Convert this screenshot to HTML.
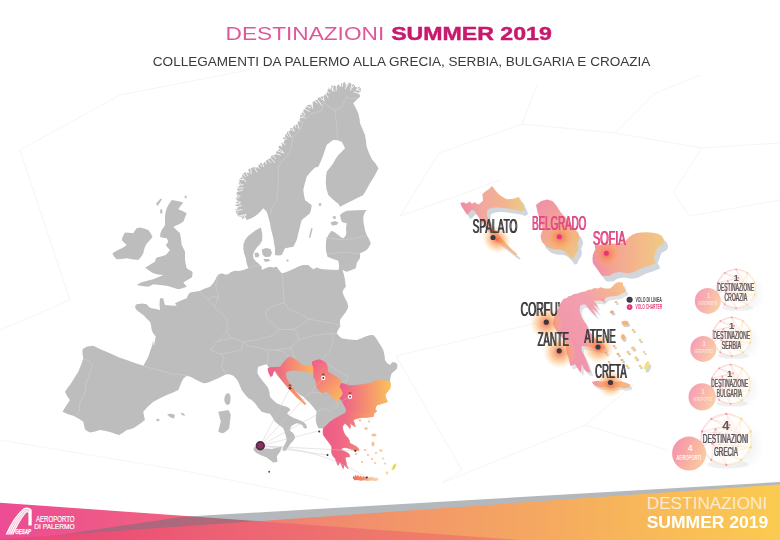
<!DOCTYPE html>
<html><head><meta charset="utf-8"><title>Destinazioni Summer 2019</title>
<style>
html,body{margin:0;padding:0;background:#fff;}
body{width:780px;height:540px;overflow:hidden;font-family:"Liberation Sans",sans-serif;}
svg{display:block;position:absolute;left:0;top:0}
text{font-family:"Liberation Sans",sans-serif;}
</style></head><body>
<svg width="780" height="540" viewBox="0 0 780 540">
<defs>
<linearGradient id="gCro" gradientUnits="userSpaceOnUse" x1="267" y1="0" x2="314" y2="0"><stop offset="0" stop-color="#ee5c8a"/><stop offset=".3" stop-color="#f0707f"/><stop offset=".55" stop-color="#f58c72"/><stop offset="1" stop-color="#fbb45e"/></linearGradient>
<linearGradient id="gSer" gradientUnits="userSpaceOnUse" x1="312" y1="365" x2="344" y2="395"><stop offset="0" stop-color="#f0608c"/><stop offset=".5" stop-color="#f58a74"/><stop offset="1" stop-color="#fbb85e"/></linearGradient>
<linearGradient id="gBul" gradientUnits="userSpaceOnUse" x1="340" y1="0" x2="391" y2="0"><stop offset="0" stop-color="#ee5a8e"/><stop offset=".5" stop-color="#f58d72"/><stop offset="1" stop-color="#fbc25c"/></linearGradient>
<linearGradient id="gGre" gradientUnits="userSpaceOnUse" x1="323" y1="0" x2="379" y2="0"><stop offset="0" stop-color="#ee5a88"/><stop offset=".4" stop-color="#f06a84"/><stop offset=".66" stop-color="#f48a70"/><stop offset="1" stop-color="#f9aa62"/></linearGradient>
<linearGradient id="gCre" x1="0" y1="0" x2="1" y2="0"><stop offset="0" stop-color="#f26a58"/><stop offset=".42" stop-color="#f58a66"/><stop offset=".6" stop-color="#f8bc92"/><stop offset="1" stop-color="#fad6ae"/></linearGradient>

<linearGradient id="rCro" gradientUnits="userSpaceOnUse" x1="460" y1="0" x2="525" y2="0"><stop offset="0" stop-color="#ef8ba4"/><stop offset=".35" stop-color="#f2a89f"/><stop offset=".68" stop-color="#f1b48c"/><stop offset="1" stop-color="#ebcb86"/></linearGradient>
<linearGradient id="rSer" gradientUnits="userSpaceOnUse" x1="538" y1="204" x2="580" y2="256"><stop offset="0" stop-color="#f190aa"/><stop offset=".45" stop-color="#f3a794"/><stop offset=".75" stop-color="#f2b982"/><stop offset="1" stop-color="#ebc98a"/></linearGradient>
<linearGradient id="rBul" gradientUnits="userSpaceOnUse" x1="592" y1="0" x2="665" y2="0"><stop offset="0" stop-color="#f28aa8"/><stop offset=".3" stop-color="#f4a496"/><stop offset=".65" stop-color="#f3b98a"/><stop offset="1" stop-color="#efcb84"/></linearGradient>
<linearGradient id="rGre" gradientUnits="userSpaceOnUse" x1="556" y1="350" x2="627" y2="286"><stop offset="0" stop-color="#f193a9"/><stop offset=".6" stop-color="#f3a0ae"/><stop offset=".82" stop-color="#f5b292"/><stop offset="1" stop-color="#f6c484"/></linearGradient>
<linearGradient id="rCre" x1="0" y1="0" x2="1" y2="0"><stop offset="0" stop-color="#f4979a"/><stop offset="1" stop-color="#f7ba80"/></linearGradient>

<radialGradient id="glow"><stop offset="0" stop-color="#f25c3c" stop-opacity=".88"/><stop offset=".25" stop-color="#f6804a" stop-opacity=".72"/><stop offset=".55" stop-color="#f9a24e" stop-opacity=".5"/><stop offset=".8" stop-color="#fbb866" stop-opacity=".24"/><stop offset="1" stop-color="#fdcc80" stop-opacity="0"/></radialGradient>
<radialGradient id="glowS"><stop offset="0" stop-color="#f2506a" stop-opacity=".8"/><stop offset=".3" stop-color="#f6804c" stop-opacity=".6"/><stop offset=".65" stop-color="#f9a24c" stop-opacity=".35"/><stop offset="1" stop-color="#fbb860" stop-opacity="0"/></radialGradient>

<linearGradient id="badge" x1="0" y1=".2" x2="1" y2=".6"><stop offset="0" stop-color="#f690ae"/><stop offset=".5" stop-color="#f8ada4"/><stop offset="1" stop-color="#facb9e"/></linearGradient>
<radialGradient id="sshadow"><stop offset="0" stop-color="#b8bcc4" stop-opacity=".28"/><stop offset=".6" stop-color="#c8ccd2" stop-opacity=".12"/><stop offset="1" stop-color="#d8dce0" stop-opacity="0"/></radialGradient>
<linearGradient id="netg" x1="0" y1="0" x2="1" y2=".4"><stop offset="0" stop-color="#ee7a98"/><stop offset=".55" stop-color="#f4a58a"/><stop offset="1" stop-color="#f7cf78"/></linearGradient>

<linearGradient id="footA" gradientUnits="userSpaceOnUse" x1="0" y1="0" x2="300" y2="0"><stop offset="0" stop-color="#ec4c94"/><stop offset=".6" stop-color="#f0627f"/><stop offset="1" stop-color="#f07078"/></linearGradient>
<linearGradient id="footB" gradientUnits="userSpaceOnUse" x1="0" y1="0" x2="780" y2="0"><stop offset="0" stop-color="#ec4e82"/><stop offset=".15" stop-color="#ee5e78"/><stop offset=".33" stop-color="#ef7c76"/><stop offset=".5" stop-color="#f2946a"/><stop offset=".67" stop-color="#f5a662"/><stop offset=".85" stop-color="#f8bb58"/><stop offset="1" stop-color="#facb50"/></linearGradient>
</defs>

<!-- faint background low-poly lines -->
<g stroke="#f5f5f5" stroke-width="1" fill="none">
<path d="M20,150 L120,95 L300,60"/>
<path d="M0,330 L70,300 L20,150"/>
<path d="M0,440 L180,470 L330,500"/>
<path d="M400,216 L439,153 L522,124 L615,133 L702,148 L780,143"/>
<path d="M522,124 L537,85 M615,133 L654,94 L700,75"/>
<path d="M702,148 L673,192 L690,216 L780,200"/>
<path d="M400,216 L454,197 L500,180"/>
<path d="M396,356 L536,323 M396,356 L462,470 L442,483"/>
<path d="M442,483 L585,425 L667,450 M585,425 L634,384"/>
</g>

<!-- ================= MAIN MAP ================= -->
<g fill="#bdbdbd">
<path d="M82.5,349.2 L87.0,346.5 L93.3,345.8 L101.0,349.5 L110.0,353.3 L118.0,357.0 L126.7,360.0 L135.0,363.0 L143.3,365.8 L146.0,361.0 L148.3,356.7 L150.5,350.0 L152.3,345.0 L153.0,340.5 L153.9,346.0 L155.0,340.0 L155.8,336.7 L153.0,333.0 L151.7,330.0 L151.0,325.0 L150.0,321.7 L146.0,318.0 L143.3,315.0 L139.0,312.0 L135.8,309.2 L135.0,306.0 L136.7,304.2 L142.0,303.5 L146.7,304.2 L149.0,307.0 L151.7,308.3 L156.0,309.0 L160.0,310.0 L159.5,304.0 L160.0,298.3 L163.3,298.3 L164.0,302.0 L165.0,305.0 L171.0,305.5 L176.7,305.8 L175.0,303.3 L181.0,300.5 L186.7,298.3 L188.0,295.0 L190.0,292.5 L195.0,291.8 L200.0,290.8 L205.0,288.5 L210.0,286.7 L213.0,283.5 L215.5,279.5 L217.0,276.0 L219.0,274.3 L221.7,273.3 L225.0,274.5 L228.3,274.2 L231.0,272.0 L235.0,270.8 L239.0,271.0 L243.3,270.0 L248.3,268.3 L246.5,263.0 L245.8,258.3 L244.0,253.0 L243.3,248.3 L243.5,244.0 L245.0,240.0 L248.0,236.0 L251.7,233.3 L256.0,230.0 L260.8,227.5 L261.9,231.7 L262.4,236.0 L262.0,241.0 L259.8,244.5 L256.8,247.5 L254.2,251.5 L253.0,255.0 L253.5,258.3 L255.5,261.0 L258.3,263.3 L261.7,266.7 L261.7,270.0 L266.0,268.0 L270.0,266.7 L273.0,267.5 L276.7,266.7 L279.0,270.0 L281.7,273.3 L285.0,272.5 L290.0,270.5 L295.0,268.3 L299.0,266.3 L303.3,265.0 L308.3,265.0 L311.0,267.5 L313.3,269.2 L316.7,267.5 L320.0,268.8 L323.3,269.2 L331.0,269.8 L338.3,270.0 L339.2,266.7 L338.3,260.8 L333.0,259.0 L327.5,256.7 L326.0,251.0 L325.8,246.7 L326.0,242.0 L326.7,238.3 L329.0,234.0 L331.7,230.8 L335.0,232.5 L338.3,235.0 L341.0,237.2 L343.3,238.3 L345.5,236.0 L346.3,233.3 L346.0,228.0 L346.7,223.3 L344.0,222.8 L341.7,221.7 L340.5,218.0 L340.0,215.0 L343.0,212.5 L346.7,210.8 L356.0,210.2 L366.7,210.0 L364.5,213.0 L363.3,216.7 L363.3,221.0 L364.0,225.0 L365.0,230.0 L366.7,235.0 L369.0,239.0 L370.8,243.3 L369.0,247.0 L366.7,250.0 L363.0,252.0 L360.0,253.3 L360.0,258.3 L358.0,261.0 L356.7,263.3 L355.8,268.3 L351.0,270.3 L346.7,271.7 L342.5,270.0 L344.0,275.0 L345.0,280.0 L345.8,286.7 L343.5,289.5 L342.5,291.7 L343.5,295.0 L345.0,298.3 L347.0,302.0 L348.3,306.7 L347.0,310.0 L345.0,313.3 L342.0,317.0 L340.0,320.0 L340.0,326.7 L338.0,330.0 L336.7,333.3 L339.0,336.0 L341.7,338.3 L349.0,339.5 L356.7,340.0 L361.0,338.5 L365.0,336.7 L369.0,335.3 L373.3,335.0 L376.0,338.0 L378.3,341.7 L381.0,346.0 L383.3,350.0 L384.5,355.0 L385.0,360.0 L387.0,363.0 L390.0,365.0 L392.0,362.3 L395.0,362.3 L397.5,364.5 L397.0,368.5 L394.5,371.0 L391.7,373.3 L390.5,377.0 L390.0,381.7 L390.5,385.0 L390.0,388.3 L387.0,392.0 L385.0,395.0 L386.0,398.5 L387.5,401.7 L382.0,403.5 L376.7,405.0 L375.5,407.5 L375.0,410.0 L377.0,411.0 L374.0,413.5 L373.3,416.7 L370.0,417.0 L366.7,417.5 L362.0,417.5 L358.3,418.3 L355.5,419.0 L353.3,420.0 L354.5,423.5 L355.5,427.0 L352.5,425.0 L350.0,423.3 L350.5,426.0 L350.0,428.8 L347.5,425.5 L345.0,423.3 L343.5,425.0 L342.5,426.7 L343.0,430.0 L344.2,433.3 L346.0,436.0 L348.3,438.3 L349.5,441.0 L350.0,443.3 L353.5,445.0 L356.7,446.7 L358.5,448.5 L359.2,450.5 L356.0,450.5 L353.3,450.0 L350.5,449.0 L348.3,448.3 L345.0,447.5 L341.7,448.3 L341.7,450.0 L345.0,451.5 L348.3,453.3 L349.5,455.0 L350.0,456.7 L347.5,457.0 L345.0,457.5 L346.0,461.5 L346.7,465.0 L348.3,468.8 L346.0,467.0 L344.2,465.0 L343.3,468.8 L341.5,465.0 L340.0,461.7 L339.0,464.0 L338.0,465.5 L336.5,462.0 L335.0,458.3 L333.0,456.0 L331.7,453.3 L331.7,450.0 L331.7,446.7 L330.0,444.0 L328.3,441.7 L325.5,438.0 L323.3,435.0 L323.0,431.5 L323.3,428.3 L318.3,428.3 L316.5,424.0 L315.8,420.0 L316.0,415.5 L316.7,411.7 L313.5,407.5 L310.0,403.3 L306.5,400.0 L303.3,396.7 L300.0,395.0 L295.0,390.5 L290.0,386.7 L285.5,383.5 L281.7,380.0 L279.0,377.5 L276.7,375.0 L275.0,372.0 L273.3,370.0 L271.5,372.0 L269.8,371.5 L268.3,366.7 L266.7,364.2 L262.0,365.5 L258.3,366.7 L257.5,370.0 L257.5,373.3 L260.0,377.5 L263.3,381.7 L266.0,385.0 L268.3,388.3 L269.5,392.5 L270.0,396.7 L273.0,400.0 L276.7,403.3 L281.5,405.3 L286.7,406.7 L289.0,408.0 L290.5,410.0 L288.5,411.8 L287.0,413.5 L290.0,416.0 L294.0,418.0 L299.5,420.3 L303.5,422.0 L306.0,424.5 L307.0,427.2 L305.8,428.8 L303.8,428.0 L302.5,425.2 L299.5,423.8 L296.7,423.3 L293.5,424.8 L290.8,426.7 L290.0,430.8 L293.3,433.3 L294.8,436.0 L295.0,438.3 L293.0,441.0 L290.8,443.3 L288.0,447.5 L285.8,450.8 L282.5,450.8 L283.3,446.7 L285.5,443.0 L286.7,440.0 L286.0,436.5 L285.0,433.3 L284.0,430.5 L283.3,428.3 L279.0,425.0 L275.0,421.7 L272.5,417.5 L270.0,413.8 L265.5,413.0 L261.7,411.7 L258.0,407.5 L255.0,403.3 L251.0,399.5 L248.3,398.3 L245.0,394.5 L241.7,390.0 L240.0,386.0 L238.3,381.7 L236.0,378.5 L233.3,375.8 L230.0,374.5 L226.7,374.2 L222.5,376.0 L218.3,378.3 L214.0,380.0 L210.0,381.7 L206.5,383.0 L203.3,383.3 L199.0,381.3 L195.0,379.2 L191.0,377.0 L186.7,375.8 L183.5,378.5 L181.7,381.7 L180.0,386.0 L178.3,390.0 L172.5,392.7 L166.7,395.0 L160.0,398.3 L153.3,401.7 L148.0,406.5 L143.3,411.7 L144.0,416.0 L145.0,420.0 L139.0,424.5 L133.3,428.3 L130.0,429.3 L126.7,430.0 L123.0,432.7 L119.2,435.0 L115.5,434.0 L111.7,432.5 L106.0,431.0 L100.0,430.0 L95.0,431.5 L90.0,432.5 L87.0,431.0 L85.0,429.2 L84.0,425.5 L83.3,421.7 L78.5,418.5 L73.3,415.8 L68.0,414.3 L62.5,411.7 L66.0,406.0 L70.0,400.0 L67.0,396.0 L65.0,391.7 L67.5,388.0 L70.0,385.0 L74.0,378.5 L78.3,371.7 L81.0,365.0 L83.3,358.3 L82.5,353.5Z"/>
<path d="M246.7,220.0 L245.6,217.8 L243.7,218.5 L242.0,218.8 L240.8,216.5 L238.3,216.7 L237.6,214.8 L236.0,213.5 L235.9,211.6 L235.0,210.0 L237.6,208.6 L237.9,207.0 L234.9,205.2 L237.2,203.7 L235.5,202.0 L237.7,200.6 L235.1,198.3 L237.4,196.9 L236.7,195.0 L236.4,193.0 L237.9,191.0 L237.0,189.0 L237.8,187.2 L240.0,185.7 L238.3,183.3 L239.4,181.7 L239.3,179.6 L240.5,178.0 L242.1,176.8 L242.4,174.9 L243.3,173.3 L245.0,172.2 L248.0,172.8 L248.0,169.5 L249.7,168.5 L251.8,168.1 L253.3,166.7 L255.8,167.4 L258.1,167.6 L259.0,164.3 L260.6,163.1 L263.1,163.7 L264.5,162.0 L266.0,161.1 L267.2,159.6 L269.0,159.0 L270.6,157.7 L271.5,155.8 L273.5,155.0 L275.8,154.4 L276.0,151.8 L277.5,150.5 L279.2,149.5 L278.2,147.2 L279.1,145.8 L282.5,145.5 L281.0,143.0 L283.8,142.4 L284.4,140.7 L282.6,137.8 L285.2,137.1 L285.0,135.0 L286.6,133.5 L287.5,131.5 L290.1,130.9 L290.0,128.3 L291.9,127.9 L293.5,127.1 L294.0,125.0 L296.3,125.1 L297.2,123.3 L298.3,121.7 L299.7,119.8 L300.0,117.5 L300.3,115.2 L301.7,113.3 L303.0,112.0 L303.3,110.0 L305.0,109.0 L305.7,107.4 L306.5,105.7 L308.3,105.0 L309.8,104.3 L312.3,105.0 L312.5,102.3 L314.4,100.7 L316.7,100.0 L317.8,98.1 L319.5,97.2 L321.5,96.5 L323.6,96.0 L325.0,94.4 L326.7,93.3 L327.5,90.5 L328.3,87.5 L330.6,88.7 L331.3,85.8 L333.0,85.5 L334.9,85.7 L336.9,86.3 L338.3,84.2 L340.5,86.3 L341.3,83.0 L343.0,83.0 L344.7,81.9 L346.8,85.1 L348.3,82.5 L350.4,82.8 L352.1,84.7 L354.5,84.0 L355.4,86.9 L357.4,87.3 L360.0,86.7 L360.5,88.3 L361.2,89.8 L361.0,91.5 L358.1,92.7 L359.9,94.9 L360.0,96.7 L356.5,100.0 L353.3,103.3 L356.0,108.5 L358.3,113.3 L359.5,118.5 L360.0,123.3 L362.5,129.0 L365.0,135.0 L366.0,141.0 L366.7,146.7 L369.0,153.0 L372.0,159.5 L375.5,163.5 L378.5,168.3 L374.5,176.0 L370.0,183.3 L366.5,189.5 L363.3,195.0 L360.0,196.8 L356.7,198.3 L351.5,201.0 L346.7,203.3 L343.0,205.3 L340.0,206.7 L338.3,203.8 L333.0,199.5 L328.3,195.0 L326.5,189.0 L325.8,183.3 L326.0,177.0 L326.7,171.7 L330.0,167.5 L333.3,163.3 L335.5,159.0 L338.3,155.0 L342.0,151.5 L345.0,148.3 L343.5,145.0 L341.7,141.7 L337.5,140.3 L333.3,140.0 L330.0,142.3 L326.7,145.0 L325.0,150.0 L323.3,155.0 L321.0,161.0 L318.3,166.7 L315.0,167.5 L310.5,172.0 L306.7,176.7 L304.8,183.5 L303.3,190.0 L304.0,195.0 L305.0,200.0 L308.5,202.8 L311.7,205.0 L311.2,209.0 L310.0,213.3 L305.5,217.0 L301.7,220.0 L300.0,226.5 L298.3,233.3 L297.5,237.0 L296.7,240.0 L295.0,243.5 L293.3,246.7 L289.0,247.5 L285.0,248.3 L283.5,251.5 L281.7,255.0 L278.5,255.5 L275.0,255.0 L275.0,251.5 L275.0,248.3 L274.0,243.0 L273.3,238.3 L272.0,233.0 L270.8,228.3 L270.0,223.3 L268.3,216.7 L266.7,211.7 L263.3,208.3 L260.0,212.0 L256.7,215.0 L252.0,218.0Z"/>
<path d="M242.7,221.0L246.0,214.5M239.1,219.3L245.5,214.3M236.1,216.8L243.7,214.9M234.6,214.9L238.2,212.1M233.2,210.9L241.9,209.7M233.2,208.1L241.4,205.6M233.4,204.6L239.9,203.5M233.7,200.6L240.5,202.3M234.2,198.1L238.7,197.7M234.9,194.0L240.1,196.4M234.9,192.1L242.6,190.1M235.1,188.6L243.2,187.8M235.9,185.5L243.1,184.7M237.2,180.9L240.6,183.9M238.0,179.0L243.4,179.8M240.1,174.9L245.9,181.8M241.9,172.1L245.3,176.8M244.4,169.8L247.9,175.9M247.4,167.6L248.9,172.9M250.6,166.1L251.1,173.7M252.5,164.9L257.1,172.0M255.2,163.8L259.2,168.5M258.1,162.7L261.7,166.3M261.8,161.0L263.6,166.5M264.5,159.7L266.3,163.8M266.6,158.2L270.7,162.6M269.1,156.2L274.6,162.3M271.5,154.1L275.5,158.5M273.1,152.6L280.4,155.1M275.3,150.3L283.8,152.9M277.2,146.7L283.0,152.0M278.5,143.9L282.0,146.8M279.6,141.2L284.9,144.4M280.8,139.3L285.3,139.5M282.9,135.0L286.4,139.1M284.5,132.3L288.1,136.3M286.8,129.5L291.0,137.0M288.0,127.7L293.2,130.7M291.2,124.8L294.2,131.0M293.7,122.7L295.8,127.3M296.5,120.7L299.1,128.4M297.5,118.7L300.8,122.0M298.2,116.7L303.0,117.8M299.9,112.8L305.1,117.8M302.1,109.8L305.1,115.0M303.3,108.0L309.3,111.4M305.2,105.7L310.7,108.0M307.8,103.1L311.6,106.1M311.8,100.6L312.7,108.2M313.2,99.8L317.4,103.0M316.4,97.7L321.5,105.1M318.6,96.2L323.4,100.3M322.3,93.8L324.1,100.7M324.4,92.4L328.2,97.7M325.6,90.3L329.4,93.2M326.1,88.0L330.6,89.1M329.0,85.2L334.5,91.3M333.6,83.5L332.3,91.1M336.4,82.7L336.3,90.0M338.9,82.0L340.4,86.7M342.7,81.1L342.4,86.3M345.5,80.8L346.3,86.5M350.0,81.0L345.3,88.6M352.4,81.4L350.7,90.2M356.3,82.7L352.2,88.0M358.5,83.8L356.7,90.2M361.9,86.6L356.5,89.8M362.8,91.2L356.8,89.8M362.4,94.5L354.0,91.9" stroke="#fff" stroke-width=".9" fill="none" stroke-linecap="round" opacity=".9"/>
<path d="M171.7,200.0 L177.5,201.0 L183.3,202.5 L180.5,206.0 L178.3,209.2 L182.5,211.0 L186.7,213.3 L185.0,217.5 L183.3,221.7 L178.5,224.5 L173.3,226.7 L176.5,230.0 L180.0,233.3 L181.0,239.0 L181.7,245.0 L183.5,248.5 L185.0,251.7 L185.0,260.0 L185.8,264.5 L186.7,268.3 L189.5,270.0 L192.5,271.7 L192.5,274.5 L191.7,277.5 L187.5,280.0 L183.3,282.5 L185.0,284.5 L186.7,286.7 L182.5,288.2 L178.3,289.2 L172.5,287.5 L166.7,285.8 L160.0,285.0 L153.3,284.2 L150.5,285.7 L148.3,286.7 L142.0,286.0 L136.7,285.0 L139.5,283.2 L143.3,281.7 L148.0,280.5 L153.3,279.2 L158.5,277.0 L163.3,275.0 L158.0,274.5 L153.3,273.3 L149.0,270.5 L145.0,267.5 L146.7,266.7 L151.0,264.0 L155.0,261.7 L155.5,259.5 L156.7,257.5 L161.0,256.5 L165.8,255.0 L168.0,252.5 L170.0,250.0 L167.5,247.5 L165.8,245.0 L168.3,241.7 L166.7,238.3 L163.0,237.7 L160.0,236.7 L160.5,233.0 L161.7,230.0 L163.5,227.5 L165.0,225.0 L165.0,216.7 L165.5,212.5 L166.7,208.3 L169.0,204.0Z"/>
<path d="M140.0,227.5 L144.0,228.5 L148.3,230.0 L150.5,233.0 L152.5,236.7 L150.5,239.5 L148.3,241.7 L146.5,244.0 L145.0,246.7 L144.0,250.0 L143.3,253.3 L141.0,257.0 L138.3,260.0 L132.0,259.3 L126.7,258.3 L121.5,259.0 L116.7,259.2 L114.0,256.5 L112.5,253.3 L117.0,250.5 L121.7,248.3 L124.5,246.7 L126.7,245.0 L124.0,242.5 L121.7,240.0 L123.0,236.0 L125.0,232.5 L129.0,232.7 L133.3,233.3 L135.0,230.5 L136.7,228.3Z"/>
<path d="M254.5,446.7 L259.0,448.3 L263.3,448.8 L267.5,448.6 L271.7,449.0 L277.0,447.8 L281.7,446.5 L281.0,449.5 L280.0,451.7 L278.0,454.5 L276.7,456.7 L277.2,459.0 L277.5,461.7 L275.5,462.3 L273.3,462.5 L270.0,460.0 L266.7,457.5 L261.5,455.5 L256.7,453.3 L254.5,451.3 L253.3,449.2Z"/>
<path d="M218.3,411.7 L223.0,411.0 L228.3,410.0 L229.8,412.5 L230.8,415.0 L230.0,421.5 L229.2,428.3 L226.5,431.0 L223.3,433.3 L220.5,432.8 L218.3,431.7 L219.5,426.5 L220.8,421.7 L219.5,416.5Z"/>
<path d="M226.5,393.5 L229.0,393.3 L230.5,396.0 L230.5,400.0 L230.0,403.3 L228.2,404.8 L226.7,405.0 L225.0,402.5 L224.2,400.0 L224.8,396.5Z"/>
<path d="M261.7,249.5 L266.0,248.0 L270.5,249.0 L272.0,253.0 L270.0,256.7 L265.0,257.0 L262.5,254.5Z"/><path d="M254.5,253.0 L258.0,252.5 L259.5,255.0 L258.0,257.5 L255.0,257.0Z"/><path d="M263.5,259.0 L269.0,259.0 L270.0,261.0 L265.0,262.0Z"/><path d="M311.2,228.0 L312.6,228.5 L310.5,237.5 L308.8,238.0Z"/><path d="M330.5,222.5 L335.0,221.0 L338.5,222.5 L336.5,225.0 L332.0,225.5Z"/><path d="M332.5,216.5 L335.5,216.0 L336.0,218.5 L333.5,219.0Z"/><path d="M167.0,414.5 L171.0,413.5 L175.0,415.0 L174.0,418.5 L170.5,417.5Z"/><path d="M180.5,412.8 L184.0,413.5 L185.0,416.0 L182.0,415.0Z"/><path d="M156.0,419.5 L159.0,418.5 L159.5,420.5 L157.0,421.5Z"/><path d="M156.0,203.5 L158.5,201.0 L160.5,198.5 L162.0,199.5 L159.5,203.0 L157.5,206.0Z"/><path d="M160.0,210.0 L162.0,209.0 L162.5,213.0 L160.5,214.0Z"/><path d="M184.5,196.0 L186.5,195.5 L186.5,198.0 L185.0,198.5Z"/><path d="M286.5,259.5 L288.5,259.5 L288.5,261.5 L286.5,261.5Z"/><path d="M318.5,203.5 L321.0,203.0 L321.5,205.5 L319.0,206.0Z"/>
</g>
<!-- country borders (very subtle) -->
<g stroke="#cdcdcd" stroke-width=".7" fill="none" stroke-linejoin="round">
<path d="M143.3,365.8 L152,368.5 L162,371 L172,374 L180,374.5 L187,376"/>
<path d="M83.5,358.5 L90,361.5 L92.5,366 L89,375 L86,384 L84.5,394 L80,402 L79,412 L76.7,415.5"/>
<path d="M199,291 L208,300 L214.5,307.5 L221,313 L227,319 L226.9,331.5 L222,337 L216.7,341.8 L210.5,350 L216,352.5 L220.8,354.1 L224,358 L221.5,366 L225.5,374"/>
<path d="M219,274.3 L215.5,285 L218.5,297 L214.5,307.5"/>
<path d="M208,300 L213,296.5 L218.5,297"/>
<path d="M248.3,268.3 L253,266.3 L258.3,265.5"/>
<path d="M282.3,273 L283.3,290.5 L284.4,302.8 L276.2,304.9 L270,308 L265.9,311 L265.9,317.2 L272.1,323.3 L280.3,329.5 L272.1,335.6 L257.7,339.7 L243.3,341.8 L231,337.7 L226.9,331.5"/>
<path d="M284.4,302.8 L288.5,309 L298.7,313.1 L309,319.2 L300.8,325.4 L292.6,329.5 L280.3,329.5"/>
<path d="M309,319.2 L321.3,321.3 L333.6,323.3 L341,326"/>
<path d="M292.6,329.5 L296.7,331.5 L298.7,339.7 L313.1,335.6 L329.5,333.6 L336.7,333.3"/>
<path d="M216.7,341.8 L231,337.7 M243.3,341.8 L241.3,350 L231,352.1 L220.8,354.1"/>
<path d="M243.3,341.8 L247.4,345.9 L259.7,347.9 L266.5,350 L276.2,350 L290.5,347.9 L298.7,339.7"/>
<path d="M266.5,350 L268.5,356.5 L266.7,364"/>
<path d="M276.2,350 L284,352 L288.5,357"/>
<path d="M290.5,347.9 L292.6,352.1 L295,358.3"/>
<path d="M329.5,333.6 L333.6,337.7 L329.5,352.1 L321.3,360.3 L320,359.2"/>
<path d="M326.7,363.3 L333,367 L341,373 L348,376 L346.5,381 L341.7,383.3"/>
<path d="M326,238 L345,240 L366,236 M327,254 L345,252 L360,254"/>
<path d="M304,398 L312,392 L321.7,393.3 M316.5,412 L324,408 L330,412 L338.5,405.5 L336.7,401.7 M323.3,428.3 L328,421 L337,417.5"/>
<path d="M270,215 L271.7,208 L276.7,200 L278.3,188 L278.3,167 L283,160 L290,152 L293,137 L300,130 L303,122 L311.5,113.5 L321.5,111 L324,102 L330,108 L335,110"/>
<path d="M335,110 L336.5,125 L338,139.5"/>
<path d="M335,110 L341.5,107.5 L346.5,97 L353,99 L358,98"/>
</g>

<!-- coloured destination countries -->
<path d="M267.5,368.5 L270.0,367.3 L275.0,367.0 L280.0,366.7 L284.0,361.5 L288.5,357.0 L291.5,357.3 L295.0,359.0 L299.0,362.0 L303.3,365.5 L307.5,366.0 L311.7,364.0 L313.5,368.3 L313.5,373.8 L310.0,373.0 L306.7,372.0 L301.0,371.0 L295.0,370.5 L290.5,370.8 L286.7,372.0 L286.0,375.0 L286.7,378.3 L289.5,383.0 L293.0,388.0 L297.0,393.0 L301.5,398.0 L306.3,403.8 L305.0,405.2 L300.5,401.0 L296.0,397.0 L291.0,391.5 L286.3,386.3 L282.0,381.0 L279.5,377.5 L277.0,373.5 L275.0,370.5 L273.5,372.5 L272.5,376.0 L270.5,377.0 L268.5,373.0Z" fill="url(#gCro)"/>
<path d="M311.7,361.7 L316.0,360.0 L320.0,359.2 L323.5,361.0 L326.7,363.3 L327.8,367.5 L328.3,371.7 L332.5,374.0 L336.7,376.7 L339.5,379.0 L341.7,381.7 L340.5,384.0 L340.0,386.7 L342.0,390.0 L343.3,393.3 L342.0,396.0 L340.0,398.3 L338.5,400.0 L336.7,401.7 L334.0,399.0 L331.7,396.7 L329.0,394.0 L326.7,391.7 L324.0,392.7 L321.7,393.3 L319.0,391.0 L316.7,388.3 L316.0,385.0 L315.8,381.7 L314.5,379.0 L313.3,376.7 L313.3,372.0 L313.3,368.3 L312.3,365.0Z" fill="url(#gSer)"/>
<path d="M341.7,383.3 L346.0,384.7 L350.0,385.8 L355.0,385.5 L360.0,385.0 L365.0,384.3 L370.0,383.3 L374.5,381.5 L378.3,380.0 L384.0,380.7 L390.0,381.7 L390.5,385.0 L390.0,388.3 L387.0,392.0 L385.0,395.0 L386.0,398.5 L387.5,401.7 L382.0,403.5 L376.7,405.0 L375.5,407.5 L375.0,410.0 L371.5,412.0 L368.3,413.3 L364.0,413.5 L360.0,413.3 L355.5,412.7 L351.7,411.7 L349.0,411.0 L346.7,410.0 L345.0,406.5 L343.3,403.3 L341.5,400.5 L340.0,398.3 L342.0,396.0 L343.3,393.3 L342.0,390.0 L340.0,386.7 L340.5,384.8Z" fill="url(#gBul)" stroke="url(#gBul)" stroke-width=".9" stroke-linejoin="round"/>
<path d="M323.3,428.3 L326.5,425.0 L330.0,421.7 L334.0,419.0 L338.3,416.7 L341.5,415.0 L345.0,413.3 L346.7,410.0 L349.0,411.0 L351.7,411.7 L355.5,412.7 L360.0,413.3 L364.0,413.5 L368.3,413.3 L371.5,412.0 L375.0,410.0 L377.0,411.0 L374.0,413.5 L373.3,416.7 L370.0,417.0 L366.7,417.5 L362.0,417.5 L358.3,418.3 L355.5,419.0 L353.3,420.0 L354.5,423.5 L355.5,427.0 L352.5,425.0 L350.0,423.3 L350.5,426.0 L350.0,428.8 L347.5,425.5 L345.0,423.3 L343.5,425.0 L342.5,426.7 L343.0,430.0 L344.2,433.3 L346.0,436.0 L348.3,438.3 L349.5,441.0 L350.0,443.3 L353.5,445.0 L356.7,446.7 L358.5,448.5 L359.2,450.5 L356.0,450.5 L353.3,450.0 L350.5,449.0 L348.3,448.3 L345.0,447.5 L341.7,448.3 L341.7,450.0 L345.0,451.5 L348.3,453.3 L349.5,455.0 L350.0,456.7 L347.5,457.0 L345.0,457.5 L346.0,461.5 L346.7,465.0 L348.3,468.8 L346.0,467.0 L344.2,465.0 L343.3,468.8 L341.5,465.0 L340.0,461.7 L339.0,464.0 L338.0,465.5 L336.5,462.0 L335.0,458.3 L333.0,456.0 L331.7,453.3 L331.7,450.0 L331.7,446.7 L330.0,444.0 L328.3,441.7 L325.5,438.0 L323.3,435.0 L323.0,431.5Z" fill="url(#gGre)" stroke="url(#gGre)" stroke-width=".5" stroke-linejoin="round"/>
<path d="M352.7,478.0 L353.5,475.5 L354.6,477.0 L355.6,474.6 L356.8,476.8 L358.0,474.8 L359.3,477.0 L360.6,475.4 L362.0,477.3 L363.5,476.0 L365.0,477.5 L367.0,476.6 L369.0,477.6 L371.5,476.8 L374.0,477.8 L376.5,477.4 L378.6,478.8 L378.0,480.6 L375.0,481.0 L371.5,480.4 L368.0,481.0 L364.5,480.2 L361.0,480.8 L357.5,480.0 L354.5,480.2Z" fill="url(#gCre)"/>
<g opacity=".7"><ellipse cx="374" cy="435" rx="2.6" ry="1.6" fill="#f6a868" opacity="1"/>
<ellipse cx="373" cy="444" rx="1.5" ry="2.4" fill="#f6a868" opacity="1"/>
<ellipse cx="366" cy="428.5" rx="1.6" ry="1.2" fill="#f59a70" opacity="1"/>
<ellipse cx="381" cy="450.5" rx="1.6" ry="1.2" fill="#f8b864" opacity="1"/>
<ellipse cx="376" cy="453" rx="1.2" ry="1" fill="#f8b864" opacity="1"/>
<ellipse cx="368" cy="455" rx="1.2" ry="1" fill="#f6a868" opacity="1"/>
<ellipse cx="372" cy="459" rx="1.2" ry="1" fill="#f6a868" opacity="1"/>
<ellipse cx="383" cy="458.5" rx="1.3" ry="1.1" fill="#f9c060" opacity="1"/>
<ellipse cx="375" cy="463" rx="1.2" ry="1" fill="#f8b864" opacity="1"/>
<ellipse cx="385" cy="463.5" rx="1.2" ry="1" fill="#f9c060" opacity="1"/>
<ellipse cx="362" cy="462" rx="1.1" ry="0.9" fill="#f6a868" opacity="1"/>
<ellipse cx="387" cy="473" rx="1.4" ry="1.4" fill="#f9c860" opacity="1"/>
<ellipse cx="360" cy="420.5" rx="1.4" ry="1" fill="#f59a70" opacity="1"/>
<ellipse cx="369" cy="421.5" rx="1.2" ry="0.9" fill="#f6a868" opacity="1"/>
<ellipse cx="356" cy="454" rx="1.2" ry="0.9" fill="#f59a70" opacity="1"/>
<ellipse cx="365" cy="450" rx="1.3" ry="0.9" fill="#f6a868" opacity="1"/></g>
<ellipse cx="394" cy="466.9" rx="2.2" ry="4.2" fill="#fbf3b0" opacity=".8" transform="rotate(28 394 466.9)"/><ellipse cx="394" cy="466.9" rx="1.1" ry="3.2" fill="#dcd45e" transform="rotate(28 394 466.9)"/>

<!-- flight lines from Palermo -->
<g stroke="#cfcaca" stroke-width=".55" fill="none" opacity=".85">
<path d="M260.3,445.8 L290,388.3"/>
<path d="M260.3,445.8 L323.3,378"/>
<path d="M260.3,445.8 L350,396.7"/>
<path d="M260.3,445.8 L319.2,430.8"/>
<path d="M260.3,445.8 L327.5,455"/>
<path d="M260.3,445.8 L355.3,450.8"/>
<path d="M260.3,445.8 Q320,448 366.7,477.5"/>
</g>
<!-- markers -->
<g>
<circle cx="260.3" cy="445.8" r="4.7" fill="#4a2a45"/><circle cx="260.3" cy="445.8" r="3" fill="#8a2f5e"/>
<circle cx="290" cy="388.3" r="1.3" fill="#5a3a30"/>
<circle cx="323.3" cy="378" r="2.2" fill="#fff"/><circle cx="323.3" cy="378" r="1" fill="#7a2f3e"/>
<circle cx="350" cy="396.7" r="2.2" fill="#fff"/><circle cx="350" cy="396.7" r="1" fill="#a0305e"/>
<rect x="322" y="373.6" width="2.6" height="1.6" fill="#9a4a30"/><rect x="348.7" y="392.3" width="2.6" height="1.6" fill="#9a4a30"/><rect x="288.7" y="384.6" width="2.6" height="1.6" fill="#6a4a30"/>
<circle cx="319.2" cy="430.8" r="1.7" fill="#fff"/><circle cx="319.2" cy="431.5" r="1" fill="#333"/>
<circle cx="327.5" cy="455" r="1" fill="#333"/>
<circle cx="355.3" cy="450.8" r="1.1" fill="#4a3030"/>
<circle cx="366.7" cy="477.5" r="1.1" fill="#4a3030"/>
<circle cx="269.2" cy="471.7" r="1" fill="#555"/>
</g>

<!-- ================= RIGHT: ENLARGED COUNTRIES ================= -->
<!-- shadows -->
<g fill="#c9cfd7" opacity=".85">
<path d="M460.2,203.0 L464.0,202.2 L466.0,203.7 L469.8,201.5 L472.0,203.7 L474.5,202.2 L478.7,204.4 L483.0,200.7 L482.4,194.1 L486.0,191.0 L489.1,188.9 L492.0,185.9 L494.0,188.5 L495.7,191.1 L499.4,194.8 L503.0,197.3 L506.9,199.3 L511.0,199.0 L514.3,198.5 L518.7,197.0 L520.5,199.5 L521.7,202.2 L523.5,206.0 L524.6,209.6 L521.7,211.5 L518.0,210.3 L514.3,209.6 L509.0,208.7 L503.9,208.1 L499.0,207.6 L495.0,207.4 L491.0,208.3 L487.6,209.6 L487.0,212.5 L486.9,215.6 L488.0,218.0 L489.5,221.0 L492.0,225.5 L495.0,230.0 L499.0,235.0 L503.0,240.0 L507.5,245.0 L512.0,249.5 L516.0,253.0 L517.5,254.5 L515.5,255.0 L511.0,251.5 L506.0,247.5 L500.0,243.0 L495.0,238.5 L490.0,233.5 L486.0,228.5 L482.5,223.5 L480.0,219.5 L477.2,215.0 L474.3,210.5 L471.5,210.0 L469.5,212.6 L467.0,214.8 L464.5,211.0 L462.0,207.0Z" transform="translate(3.5,4.5)"/>
<path d="M536.1,204.8 L541.3,201.1 L547.2,199.6 L552.4,201.1 L555.0,203.8 L556.9,206.3 L558.8,209.5 L560.6,212.2 L563.0,215.0 L565.7,217.4 L569.5,222.5 L573.9,228.5 L576.3,230.8 L578.3,233.0 L579.8,237.4 L578.8,240.5 L577.6,243.3 L578.5,247.5 L577.6,251.0 L575.5,254.0 L573.5,258.5 L571.0,258.9 L569.0,256.0 L567.2,253.7 L564.5,251.5 L562.0,250.0 L558.0,249.3 L554.6,249.3 L551.0,248.5 L547.2,247.0 L544.5,244.5 L542.0,241.9 L541.0,238.8 L540.6,235.9 L541.5,233.0 L542.8,230.0 L541.3,225.0 L539.8,219.6 L538.7,216.0 L537.6,212.2 L536.7,208.5Z" transform="translate(3.5,5.5)"/>
<path d="M592.8,255.0 L594.0,252.0 L595.4,249.8 L594.7,245.3 L600.0,245.0 L606.0,244.5 L613.0,243.8 L620.0,243.3 L625.0,241.5 L629.1,236.9 L633.0,234.5 L636.9,233.0 L641.5,232.4 L646.0,232.3 L650.5,232.5 L655.0,233.0 L658.5,234.0 L661.5,235.6 L663.0,237.8 L664.1,240.1 L663.8,242.5 L662.8,244.6 L660.3,246.0 L657.6,247.2 L656.5,249.8 L655.7,252.4 L654.7,255.0 L653.7,257.6 L655.0,260.3 L656.3,262.8 L653.0,264.3 L649.9,265.4 L646.0,266.7 L642.1,268.0 L638.0,270.0 L634.3,271.9 L631.0,272.7 L627.8,273.2 L624.0,272.7 L620.0,271.9 L616.5,272.5 L613.5,273.2 L611.5,274.5 L609.6,275.8 L605.5,276.0 L601.9,275.8 L600.5,273.8 L599.3,271.9 L597.3,269.3 L595.4,266.7 L594.0,264.7 L592.8,262.8 L592.5,259.0Z" transform="translate(4,5.5)"/>
<path d="M561.9,301.0 L564.0,298.6 L566.5,298.2 L568.5,296.3 L571.0,295.8 L574.0,294.0 L577.5,293.6 L581.3,291.9 L585.0,291.6 L588.5,289.8 L591.5,289.4 L594.3,288.0 L597.5,288.4 L600.8,287.3 L605.0,288.6 L609.9,288.6 L612.5,286.5 L614.5,284.2 L616.3,282.8 L619.5,282.0 L622.8,282.8 L623.2,285.5 L624.1,288.0 L625.8,289.8 L625.4,291.9 L622.0,293.6 L617.6,295.8 L612.5,296.2 L607.3,297.0 L604.5,299.0 L602.1,300.9 L598.0,300.4 L594.0,301.0 L596.0,303.6 L598.2,307.4 L595.5,306.0 L593.2,305.4 L596.5,309.5 L598.8,312.6 L595.0,310.5 L591.5,308.0 L594.5,312.5 L596.9,316.5 L592.5,313.0 L588.5,308.5 L585.5,304.5 L582.5,304.5 L580.2,306.0 L579.6,309.5 L580.0,312.6 L581.2,316.0 L582.6,319.1 L584.5,321.8 L586.5,324.3 L588.3,329.5 L590.6,332.8 L593.3,336.2 L596.1,339.4 L599.5,341.8 L602.8,343.9 L604.6,346.0 L606.1,348.3 L603.0,349.2 L599.4,349.4 L595.0,348.5 L590.6,347.2 L586.0,346.6 L581.7,346.1 L581.7,350.6 L584.0,355.0 L586.1,359.4 L587.8,364.0 L589.4,368.3 L590.6,372.8 L587.5,372.0 L585.0,370.6 L583.2,367.2 L581.7,363.9 L581.3,368.5 L580.6,372.8 L577.5,368.2 L575.0,363.9 L572.8,365.2 L570.6,366.1 L569.3,361.5 L568.3,357.2 L567.0,354.0 L566.1,350.6 L566.1,346.1 L564.5,339.9 L561.0,336.5 L558.0,333.4 L555.0,328.5 L552.8,324.3 L553.2,321.0 L554.1,317.8 L556.0,313.0 L558.0,308.7 L559.8,304.6Z" transform="translate(2.5,3.5)" opacity=".7"/>
<path d="M591.7,382.0 L597.0,380.7 L603.0,381.5 L609.0,380.5 L615.0,381.8 L621.0,381.3 L626.0,382.8 L630.5,384.5 L629.5,387.5 L624.0,388.3 L618.0,387.0 L612.0,388.3 L606.0,386.8 L600.0,387.5 L594.5,385.5Z" transform="translate(2,2.5)" opacity=".7"/>
<ellipse cx="626.5" cy="325" rx="3.5" ry="2.2" fill="#c3c9d1" opacity="1"/>
<ellipse cx="624.5" cy="339" rx="2" ry="3" fill="#c3c9d1" opacity="1"/>
<ellipse cx="613.5" cy="314" rx="2" ry="1.5" fill="#c3c9d1" opacity="1"/>
<ellipse cx="634.5" cy="350" rx="2" ry="1.5" fill="#c3c9d1" opacity="1"/>
<ellipse cx="629.5" cy="354" rx="1.6" ry="1.2" fill="#c3c9d1" opacity="1"/>
<ellipse cx="619.5" cy="356" rx="1.6" ry="1.2" fill="#c3c9d1" opacity="1"/>
<ellipse cx="623.5" cy="362" rx="1.6" ry="1.2" fill="#c3c9d1" opacity="1"/>
<ellipse cx="637.5" cy="360" rx="1.8" ry="1.4" fill="#c3c9d1" opacity="1"/>
<ellipse cx="628.5" cy="368" rx="1.5" ry="1.2" fill="#c3c9d1" opacity="1"/>
<ellipse cx="641.5" cy="368" rx="1.4" ry="1.2" fill="#c3c9d1" opacity="1"/>
<ellipse cx="610.5" cy="364" rx="1.4" ry="1.1" fill="#c3c9d1" opacity="1"/>
<ellipse cx="604.5" cy="302" rx="1.8" ry="1.2" fill="#c3c9d1" opacity="1"/>
<ellipse cx="617.5" cy="304" rx="1.5" ry="1.1" fill="#c3c9d1" opacity="1"/>
<ellipse cx="607.5" cy="355" rx="1.6" ry="1.1" fill="#c3c9d1" opacity="1"/>
<ellipse cx="615.5" cy="348" rx="1.6" ry="1.1" fill="#c3c9d1" opacity="1"/>
<ellipse cx="634.5" cy="332" rx="1.5" ry="1.2" fill="#c3c9d1" opacity="1"/>
<ellipse cx="641.5" cy="342" rx="1.4" ry="1.2" fill="#c3c9d1" opacity="1"/>
<ellipse cx="645.5" cy="354" rx="1.3" ry="1.1" fill="#c3c9d1" opacity="1"/>
<ellipse cx="648.5" cy="368.5" rx="2" ry="4.5" transform="rotate(25 648.5 368.5)"/>
</g>
<path d="M460.2,203.0 L464.0,202.2 L466.0,203.7 L469.8,201.5 L472.0,203.7 L474.5,202.2 L478.7,204.4 L483.0,200.7 L482.4,194.1 L486.0,191.0 L489.1,188.9 L492.0,185.9 L494.0,188.5 L495.7,191.1 L499.4,194.8 L503.0,197.3 L506.9,199.3 L511.0,199.0 L514.3,198.5 L518.7,197.0 L520.5,199.5 L521.7,202.2 L523.5,206.0 L524.6,209.6 L521.7,211.5 L518.0,210.3 L514.3,209.6 L509.0,208.7 L503.9,208.1 L499.0,207.6 L495.0,207.4 L491.0,208.3 L487.6,209.6 L487.0,212.5 L486.9,215.6 L488.0,218.0 L489.5,221.0 L492.0,225.5 L495.0,230.0 L499.0,235.0 L503.0,240.0 L507.5,245.0 L512.0,249.5 L516.0,253.0 L517.5,254.5 L515.5,255.0 L511.0,251.5 L506.0,247.5 L500.0,243.0 L495.0,238.5 L490.0,233.5 L486.0,228.5 L482.5,223.5 L480.0,219.5 L477.2,215.0 L474.3,210.5 L471.5,210.0 L469.5,212.6 L467.0,214.8 L464.5,211.0 L462.0,207.0Z" fill="url(#rCro)"/>
<path d="M536.1,204.8 L541.3,201.1 L547.2,199.6 L552.4,201.1 L555.0,203.8 L556.9,206.3 L558.8,209.5 L560.6,212.2 L563.0,215.0 L565.7,217.4 L569.5,222.5 L573.9,228.5 L576.3,230.8 L578.3,233.0 L579.8,237.4 L578.8,240.5 L577.6,243.3 L578.5,247.5 L577.6,251.0 L575.5,254.0 L573.5,258.5 L571.0,258.9 L569.0,256.0 L567.2,253.7 L564.5,251.5 L562.0,250.0 L558.0,249.3 L554.6,249.3 L551.0,248.5 L547.2,247.0 L544.5,244.5 L542.0,241.9 L541.0,238.8 L540.6,235.9 L541.5,233.0 L542.8,230.0 L541.3,225.0 L539.8,219.6 L538.7,216.0 L537.6,212.2 L536.7,208.5Z" fill="url(#rSer)"/>
<path d="M592.8,255.0 L594.0,252.0 L595.4,249.8 L594.7,245.3 L600.0,245.0 L606.0,244.5 L613.0,243.8 L620.0,243.3 L625.0,241.5 L629.1,236.9 L633.0,234.5 L636.9,233.0 L641.5,232.4 L646.0,232.3 L650.5,232.5 L655.0,233.0 L658.5,234.0 L661.5,235.6 L663.0,237.8 L664.1,240.1 L663.8,242.5 L662.8,244.6 L660.3,246.0 L657.6,247.2 L656.5,249.8 L655.7,252.4 L654.7,255.0 L653.7,257.6 L655.0,260.3 L656.3,262.8 L653.0,264.3 L649.9,265.4 L646.0,266.7 L642.1,268.0 L638.0,270.0 L634.3,271.9 L631.0,272.7 L627.8,273.2 L624.0,272.7 L620.0,271.9 L616.5,272.5 L613.5,273.2 L611.5,274.5 L609.6,275.8 L605.5,276.0 L601.9,275.8 L600.5,273.8 L599.3,271.9 L597.3,269.3 L595.4,266.7 L594.0,264.7 L592.8,262.8 L592.5,259.0Z" fill="url(#rBul)"/>
<path d="M561.9,301.0 L564.0,298.6 L566.5,298.2 L568.5,296.3 L571.0,295.8 L574.0,294.0 L577.5,293.6 L581.3,291.9 L585.0,291.6 L588.5,289.8 L591.5,289.4 L594.3,288.0 L597.5,288.4 L600.8,287.3 L605.0,288.6 L609.9,288.6 L612.5,286.5 L614.5,284.2 L616.3,282.8 L619.5,282.0 L622.8,282.8 L623.2,285.5 L624.1,288.0 L625.8,289.8 L625.4,291.9 L622.0,293.6 L617.6,295.8 L612.5,296.2 L607.3,297.0 L604.5,299.0 L602.1,300.9 L598.0,300.4 L594.0,301.0 L596.0,303.6 L598.2,307.4 L595.5,306.0 L593.2,305.4 L596.5,309.5 L598.8,312.6 L595.0,310.5 L591.5,308.0 L594.5,312.5 L596.9,316.5 L592.5,313.0 L588.5,308.5 L585.5,304.5 L582.5,304.5 L580.2,306.0 L579.6,309.5 L580.0,312.6 L581.2,316.0 L582.6,319.1 L584.5,321.8 L586.5,324.3 L588.3,329.5 L590.6,332.8 L593.3,336.2 L596.1,339.4 L599.5,341.8 L602.8,343.9 L604.6,346.0 L606.1,348.3 L603.0,349.2 L599.4,349.4 L595.0,348.5 L590.6,347.2 L586.0,346.6 L581.7,346.1 L581.7,350.6 L584.0,355.0 L586.1,359.4 L587.8,364.0 L589.4,368.3 L590.6,372.8 L587.5,372.0 L585.0,370.6 L583.2,367.2 L581.7,363.9 L581.3,368.5 L580.6,372.8 L577.5,368.2 L575.0,363.9 L572.8,365.2 L570.6,366.1 L569.3,361.5 L568.3,357.2 L567.0,354.0 L566.1,350.6 L566.1,346.1 L564.5,339.9 L561.0,336.5 L558.0,333.4 L555.0,328.5 L552.8,324.3 L553.2,321.0 L554.1,317.8 L556.0,313.0 L558.0,308.7 L559.8,304.6Z" fill="url(#rGre)"/>
<path d="M591.7,382.0 L597.0,380.7 L603.0,381.5 L609.0,380.5 L615.0,381.8 L621.0,381.3 L626.0,382.8 L630.5,384.5 L629.5,387.5 L624.0,388.3 L618.0,387.0 L612.0,388.3 L606.0,386.8 L600.0,387.5 L594.5,385.5Z" fill="url(#rCre)"/>
<ellipse cx="625" cy="323" rx="3.5" ry="2.2" fill="#f7b57a" opacity="1"/>
<ellipse cx="623" cy="337" rx="2" ry="3" fill="#f7b57a" opacity="1"/>
<ellipse cx="612" cy="312" rx="2" ry="1.5" fill="#f5a080" opacity="1"/>
<ellipse cx="633" cy="348" rx="2" ry="1.5" fill="#f9c878" opacity="1"/>
<ellipse cx="628" cy="352" rx="1.6" ry="1.2" fill="#f9c878" opacity="1"/>
<ellipse cx="618" cy="354" rx="1.6" ry="1.2" fill="#f7b57a" opacity="1"/>
<ellipse cx="622" cy="360" rx="1.6" ry="1.2" fill="#f7b57a" opacity="1"/>
<ellipse cx="636" cy="358" rx="1.8" ry="1.4" fill="#fad078" opacity="1"/>
<ellipse cx="627" cy="366" rx="1.5" ry="1.2" fill="#f9c878" opacity="1"/>
<ellipse cx="640" cy="366" rx="1.4" ry="1.2" fill="#fad078" opacity="1"/>
<ellipse cx="609" cy="362" rx="1.4" ry="1.1" fill="#f7b57a" opacity="1"/>
<ellipse cx="603" cy="300" rx="1.8" ry="1.2" fill="#f5a080" opacity="1"/>
<ellipse cx="616" cy="302" rx="1.5" ry="1.1" fill="#f7b57a" opacity="1"/>
<ellipse cx="606" cy="353" rx="1.6" ry="1.1" fill="#f5a080" opacity="1"/>
<ellipse cx="614" cy="346" rx="1.6" ry="1.1" fill="#f7b57a" opacity="1"/>
<ellipse cx="633" cy="330" rx="1.5" ry="1.2" fill="#f9c878" opacity="1"/>
<ellipse cx="640" cy="340" rx="1.4" ry="1.2" fill="#fad078" opacity="1"/>
<ellipse cx="644" cy="352" rx="1.3" ry="1.1" fill="#fad078" opacity="1"/>
<ellipse cx="646.7" cy="365.5" rx="2" ry="4.5" fill="#f6df7a" transform="rotate(25 646.7 365.5)"/>

<!-- glows -->
<ellipse cx="496.5" cy="239.5" rx="15" ry="13" fill="url(#glow)" transform="rotate(35 496.5 239.5)"/>
<circle cx="560" cy="237.5" r="14" fill="url(#glowS)"/>
<circle cx="607" cy="254" r="14" fill="url(#glowS)"/>
<circle cx="546.3" cy="323" r="16.5" fill="url(#glow)"/>
<circle cx="559.5" cy="352" r="16.5" fill="url(#glow)"/>
<circle cx="598.5" cy="348" r="15.5" fill="url(#glow)"/>
<circle cx="610.5" cy="383.5" r="14" fill="url(#glow)"/>
<!-- dots -->
<g fill="#3b3842">
<circle cx="493" cy="237.5" r="2.6"/><circle cx="546.3" cy="322.2" r="2.6"/><circle cx="559.2" cy="350.8" r="2.6"/><circle cx="598" cy="347" r="2.6"/><circle cx="610.5" cy="382.5" r="2.6"/>
</g>
<circle cx="559.2" cy="236.7" r="2.5" fill="#e8357a"/><circle cx="606.3" cy="253.3" r="2.5" fill="#e8357a"/>

<!-- labels -->
<text x="472.30" y="232.6" font-size="20.6" font-weight="normal" text-anchor="start" textLength="44.6" lengthAdjust="spacingAndGlyphs" fill="#3d3b3f">SPALATO</text><text x="473.10" y="232.6" font-size="20.6" font-weight="normal" text-anchor="start" textLength="44.6" lengthAdjust="spacingAndGlyphs" fill="#3d3b3f">SPALATO</text>
<text x="531.70" y="230" font-size="20.6" font-weight="normal" text-anchor="start" textLength="54.2" lengthAdjust="spacingAndGlyphs" fill="#df4a84">BELGRADO</text><text x="532.50" y="230" font-size="20.6" font-weight="normal" text-anchor="start" textLength="54.2" lengthAdjust="spacingAndGlyphs" fill="#df4a84">BELGRADO</text>
<text x="592.60" y="245.3" font-size="20.6" font-weight="normal" text-anchor="start" textLength="32.6" lengthAdjust="spacingAndGlyphs" fill="#df4a84">SOFIA</text><text x="593.40" y="245.3" font-size="20.6" font-weight="normal" text-anchor="start" textLength="32.6" lengthAdjust="spacingAndGlyphs" fill="#df4a84">SOFIA</text>
<text x="520.20" y="316" font-size="20.6" font-weight="normal" text-anchor="start" textLength="39.4" lengthAdjust="spacingAndGlyphs" fill="#3d3b3f">CORFU&#8217;</text><text x="521.00" y="316" font-size="20.6" font-weight="normal" text-anchor="start" textLength="39.4" lengthAdjust="spacingAndGlyphs" fill="#3d3b3f">CORFU&#8217;</text>
<text x="537.20" y="345.8" font-size="20.6" font-weight="normal" text-anchor="start" textLength="31.4" lengthAdjust="spacingAndGlyphs" fill="#3d3b3f">ZANTE</text><text x="538.00" y="345.8" font-size="20.6" font-weight="normal" text-anchor="start" textLength="31.4" lengthAdjust="spacingAndGlyphs" fill="#3d3b3f">ZANTE</text>
<text x="583.90" y="342.5" font-size="20.6" font-weight="normal" text-anchor="start" textLength="31.4" lengthAdjust="spacingAndGlyphs" fill="#3d3b3f">ATENE</text><text x="584.70" y="342.5" font-size="20.6" font-weight="normal" text-anchor="start" textLength="31.4" lengthAdjust="spacingAndGlyphs" fill="#3d3b3f">ATENE</text>
<text x="594.80" y="378.3" font-size="20.6" font-weight="normal" text-anchor="start" textLength="31.4" lengthAdjust="spacingAndGlyphs" fill="#3d3b3f">CRETA</text><text x="595.60" y="378.3" font-size="20.6" font-weight="normal" text-anchor="start" textLength="31.4" lengthAdjust="spacingAndGlyphs" fill="#3d3b3f">CRETA</text>


<!-- legend -->
<circle cx="629.6" cy="299.8" r="3.05" fill="#3b3842"/><circle cx="629.6" cy="307.1" r="2.9" fill="#e2387c"/>
<circle cx="629.6" cy="299.8" r=".8" fill="#55525c"/><circle cx="629.6" cy="307.1" r=".8" fill="#f08ab0"/>
<text x="635.4" y="302.1" font-size="6.7" font-weight="bold" textLength="26.5" lengthAdjust="spacingAndGlyphs" fill="#45424a">VOLO DI LINEA</text>
<text x="635.4" y="309.3" font-size="6.5" font-weight="bold" textLength="26.8" lengthAdjust="spacingAndGlyphs" fill="#e2457f">VOLO CHARTER</text>

<!-- ================= BADGES ================= -->
<g>
<ellipse cx="737.6" cy="307.712" rx="15.52" ry="3.1039999999999996" fill="#9aa0a8" opacity=".16"/>
<ellipse cx="750.65" cy="293.55" rx="14.549999999999999" ry="19.4" fill="url(#sshadow)"/>
<circle cx="736.1" cy="288.7" r="19.4" fill="#fffdfb"/>
<path d="M736.1,269.3L747.5,273.0M747.5,273.0L754.6,282.7M754.6,282.7L754.6,294.7M754.6,294.7L747.5,304.4M747.5,304.4L736.1,308.1M736.1,308.1L724.7,304.4M724.7,304.4L717.6,294.7M717.6,294.7L717.6,282.7M717.6,282.7L724.7,273.0M724.7,273.0L736.1,269.3M746.8,285.4L744.4,296.3M746.8,285.4L736.1,288.7M744.4,296.3L733.6,299.7M744.4,296.3L736.1,288.7M733.6,299.7L725.4,292.0M733.6,299.7L736.1,288.7M725.4,292.0L727.8,281.1M725.4,292.0L736.1,288.7M727.8,281.1L738.6,277.7M727.8,281.1L736.1,288.7M738.6,277.7L746.8,285.4M738.6,277.7L736.1,288.7M736.1,269.3L746.8,285.4M736.1,269.3L744.4,296.3M747.5,273.0L744.4,296.3M747.5,273.0L733.6,299.7M754.6,282.7L744.4,296.3M754.6,282.7L733.6,299.7M754.6,294.7L733.6,299.7M754.6,294.7L725.4,292.0M747.5,304.4L733.6,299.7M747.5,304.4L725.4,292.0M736.1,308.1L725.4,292.0M736.1,308.1L727.8,281.1M724.7,304.4L727.8,281.1M724.7,304.4L738.6,277.7M717.6,294.7L727.8,281.1M717.6,294.7L738.6,277.7M717.6,282.7L738.6,277.7M717.6,282.7L746.8,285.4M724.7,273.0L738.6,277.7M724.7,273.0L746.8,285.4" stroke="url(#netg)" stroke-width=".6" fill="none" opacity=".62"/>
<circle cx="736.1" cy="288.7" r="19.4" fill="none" stroke="url(#netg)" stroke-width=".7" opacity=".55"/>
<circle cx="736.1" cy="288.7" r="19.4" fill="#ffffff" opacity=".35"/>
<circle cx="736.1" cy="269.3" r="0.87" fill="#f0869c" opacity=".8"/>
<circle cx="747.5" cy="273.0" r="0.87" fill="#f8cf7a" opacity=".8"/>
<circle cx="754.6" cy="282.7" r="0.87" fill="#f8cf7a" opacity=".8"/>
<circle cx="754.6" cy="294.7" r="0.87" fill="#f8cf7a" opacity=".8"/>
<circle cx="747.5" cy="304.4" r="0.87" fill="#f8cf7a" opacity=".8"/>
<circle cx="736.1" cy="308.1" r="0.87" fill="#f0869c" opacity=".8"/>
<circle cx="724.7" cy="304.4" r="0.87" fill="#f0869c" opacity=".8"/>
<circle cx="717.6" cy="294.7" r="0.87" fill="#f0869c" opacity=".8"/>
<circle cx="717.6" cy="282.7" r="0.87" fill="#f0869c" opacity=".8"/>
<circle cx="724.7" cy="273.0" r="0.87" fill="#f0869c" opacity=".8"/>
<circle cx="746.8" cy="285.4" r="0.87" fill="#f8cf7a" opacity=".8"/>
<circle cx="744.4" cy="296.3" r="0.87" fill="#f8cf7a" opacity=".8"/>
<circle cx="733.6" cy="299.7" r="0.87" fill="#f0869c" opacity=".8"/>
<circle cx="725.4" cy="292.0" r="0.87" fill="#f0869c" opacity=".8"/>
<circle cx="727.8" cy="281.1" r="0.87" fill="#f0869c" opacity=".8"/>
<circle cx="738.6" cy="277.7" r="0.87" fill="#f0869c" opacity=".8"/>
</g>
<g>
<ellipse cx="733.2" cy="355.712" rx="15.52" ry="3.1039999999999996" fill="#9aa0a8" opacity=".16"/>
<ellipse cx="746.25" cy="341.55" rx="14.549999999999999" ry="19.4" fill="url(#sshadow)"/>
<circle cx="731.7" cy="336.7" r="19.4" fill="#fffdfb"/>
<path d="M731.7,317.3L743.1,321.0M743.1,321.0L750.2,330.7M750.2,330.7L750.2,342.7M750.2,342.7L743.1,352.4M743.1,352.4L731.7,356.1M731.7,356.1L720.3,352.4M720.3,352.4L713.2,342.7M713.2,342.7L713.2,330.7M713.2,330.7L720.3,321.0M720.3,321.0L731.7,317.3M742.4,333.4L740.0,344.3M742.4,333.4L731.7,336.7M740.0,344.3L729.2,347.7M740.0,344.3L731.7,336.7M729.2,347.7L721.0,340.0M729.2,347.7L731.7,336.7M721.0,340.0L723.4,329.1M721.0,340.0L731.7,336.7M723.4,329.1L734.2,325.7M723.4,329.1L731.7,336.7M734.2,325.7L742.4,333.4M734.2,325.7L731.7,336.7M731.7,317.3L742.4,333.4M731.7,317.3L740.0,344.3M743.1,321.0L740.0,344.3M743.1,321.0L729.2,347.7M750.2,330.7L740.0,344.3M750.2,330.7L729.2,347.7M750.2,342.7L729.2,347.7M750.2,342.7L721.0,340.0M743.1,352.4L729.2,347.7M743.1,352.4L721.0,340.0M731.7,356.1L721.0,340.0M731.7,356.1L723.4,329.1M720.3,352.4L723.4,329.1M720.3,352.4L734.2,325.7M713.2,342.7L723.4,329.1M713.2,342.7L734.2,325.7M713.2,330.7L734.2,325.7M713.2,330.7L742.4,333.4M720.3,321.0L734.2,325.7M720.3,321.0L742.4,333.4" stroke="url(#netg)" stroke-width=".6" fill="none" opacity=".62"/>
<circle cx="731.7" cy="336.7" r="19.4" fill="none" stroke="url(#netg)" stroke-width=".7" opacity=".55"/>
<circle cx="731.7" cy="336.7" r="19.4" fill="#ffffff" opacity=".35"/>
<circle cx="731.7" cy="317.3" r="0.87" fill="#f0869c" opacity=".8"/>
<circle cx="743.1" cy="321.0" r="0.87" fill="#f8cf7a" opacity=".8"/>
<circle cx="750.2" cy="330.7" r="0.87" fill="#f8cf7a" opacity=".8"/>
<circle cx="750.2" cy="342.7" r="0.87" fill="#f8cf7a" opacity=".8"/>
<circle cx="743.1" cy="352.4" r="0.87" fill="#f8cf7a" opacity=".8"/>
<circle cx="731.7" cy="356.1" r="0.87" fill="#f0869c" opacity=".8"/>
<circle cx="720.3" cy="352.4" r="0.87" fill="#f0869c" opacity=".8"/>
<circle cx="713.2" cy="342.7" r="0.87" fill="#f0869c" opacity=".8"/>
<circle cx="713.2" cy="330.7" r="0.87" fill="#f0869c" opacity=".8"/>
<circle cx="720.3" cy="321.0" r="0.87" fill="#f0869c" opacity=".8"/>
<circle cx="742.4" cy="333.4" r="0.87" fill="#f8cf7a" opacity=".8"/>
<circle cx="740.0" cy="344.3" r="0.87" fill="#f8cf7a" opacity=".8"/>
<circle cx="729.2" cy="347.7" r="0.87" fill="#f0869c" opacity=".8"/>
<circle cx="721.0" cy="340.0" r="0.87" fill="#f0869c" opacity=".8"/>
<circle cx="723.4" cy="329.1" r="0.87" fill="#f0869c" opacity=".8"/>
<circle cx="734.2" cy="325.7" r="0.87" fill="#f0869c" opacity=".8"/>
</g>
<g>
<ellipse cx="732.1" cy="403.408" rx="15.680000000000001" ry="3.136" fill="#9aa0a8" opacity=".16"/>
<ellipse cx="745.3000000000001" cy="389.09999999999997" rx="14.700000000000001" ry="19.6" fill="url(#sshadow)"/>
<circle cx="730.6" cy="384.2" r="19.6" fill="#fffdfb"/>
<path d="M730.6,364.6L742.1,368.3M742.1,368.3L749.2,378.1M749.2,378.1L749.2,390.3M749.2,390.3L742.1,400.1M742.1,400.1L730.6,403.8M730.6,403.8L719.1,400.1M719.1,400.1L712.0,390.3M712.0,390.3L712.0,378.1M712.0,378.1L719.1,368.3M719.1,368.3L730.6,364.6M741.5,380.8L738.9,391.9M741.5,380.8L730.6,384.2M738.9,391.9L728.1,395.3M738.9,391.9L730.6,384.2M728.1,395.3L719.7,387.6M728.1,395.3L730.6,384.2M719.7,387.6L722.3,376.5M719.7,387.6L730.6,384.2M722.3,376.5L733.1,373.1M722.3,376.5L730.6,384.2M733.1,373.1L741.5,380.8M733.1,373.1L730.6,384.2M730.6,364.6L741.5,380.8M730.6,364.6L738.9,391.9M742.1,368.3L738.9,391.9M742.1,368.3L728.1,395.3M749.2,378.1L738.9,391.9M749.2,378.1L728.1,395.3M749.2,390.3L728.1,395.3M749.2,390.3L719.7,387.6M742.1,400.1L728.1,395.3M742.1,400.1L719.7,387.6M730.6,403.8L719.7,387.6M730.6,403.8L722.3,376.5M719.1,400.1L722.3,376.5M719.1,400.1L733.1,373.1M712.0,390.3L722.3,376.5M712.0,390.3L733.1,373.1M712.0,378.1L733.1,373.1M712.0,378.1L741.5,380.8M719.1,368.3L733.1,373.1M719.1,368.3L741.5,380.8" stroke="url(#netg)" stroke-width=".6" fill="none" opacity=".62"/>
<circle cx="730.6" cy="384.2" r="19.6" fill="none" stroke="url(#netg)" stroke-width=".7" opacity=".55"/>
<circle cx="730.6" cy="384.2" r="19.6" fill="#ffffff" opacity=".35"/>
<circle cx="730.6" cy="364.6" r="0.88" fill="#f0869c" opacity=".8"/>
<circle cx="742.1" cy="368.3" r="0.88" fill="#f8cf7a" opacity=".8"/>
<circle cx="749.2" cy="378.1" r="0.88" fill="#f8cf7a" opacity=".8"/>
<circle cx="749.2" cy="390.3" r="0.88" fill="#f8cf7a" opacity=".8"/>
<circle cx="742.1" cy="400.1" r="0.88" fill="#f8cf7a" opacity=".8"/>
<circle cx="730.6" cy="403.8" r="0.88" fill="#f0869c" opacity=".8"/>
<circle cx="719.1" cy="400.1" r="0.88" fill="#f0869c" opacity=".8"/>
<circle cx="712.0" cy="390.3" r="0.88" fill="#f0869c" opacity=".8"/>
<circle cx="712.0" cy="378.1" r="0.88" fill="#f0869c" opacity=".8"/>
<circle cx="719.1" cy="368.3" r="0.88" fill="#f0869c" opacity=".8"/>
<circle cx="741.5" cy="380.8" r="0.88" fill="#f8cf7a" opacity=".8"/>
<circle cx="738.9" cy="391.9" r="0.88" fill="#f8cf7a" opacity=".8"/>
<circle cx="728.1" cy="395.3" r="0.88" fill="#f0869c" opacity=".8"/>
<circle cx="719.7" cy="387.6" r="0.88" fill="#f0869c" opacity=".8"/>
<circle cx="722.3" cy="376.5" r="0.88" fill="#f0869c" opacity=".8"/>
<circle cx="733.1" cy="373.1" r="0.88" fill="#f0869c" opacity=".8"/>
</g>
<g>
<ellipse cx="727.8" cy="464.39" rx="20.400000000000002" ry="4.08" fill="#9aa0a8" opacity=".16"/>
<ellipse cx="745.425" cy="445.775" rx="19.125" ry="25.5" fill="url(#sshadow)"/>
<circle cx="726.3" cy="439.4" r="25.5" fill="#fffdfb"/>
<path d="M726.3,413.9L741.3,418.8M741.3,418.8L750.6,431.5M750.6,431.5L750.6,447.3M750.6,447.3L741.3,460.0M741.3,460.0L726.3,464.9M726.3,464.9L711.3,460.0M711.3,460.0L702.0,447.3M702.0,447.3L702.0,431.5M702.0,431.5L711.3,418.8M711.3,418.8L726.3,413.9M740.4,435.0L737.1,449.5M740.4,435.0L726.3,439.4M737.1,449.5L723.0,453.8M737.1,449.5L726.3,439.4M723.0,453.8L712.2,443.8M723.0,453.8L726.3,439.4M712.2,443.8L715.5,429.3M712.2,443.8L726.3,439.4M715.5,429.3L729.6,425.0M715.5,429.3L726.3,439.4M729.6,425.0L740.4,435.0M729.6,425.0L726.3,439.4M726.3,413.9L740.4,435.0M726.3,413.9L737.1,449.5M741.3,418.8L737.1,449.5M741.3,418.8L723.0,453.8M750.6,431.5L737.1,449.5M750.6,431.5L723.0,453.8M750.6,447.3L723.0,453.8M750.6,447.3L712.2,443.8M741.3,460.0L723.0,453.8M741.3,460.0L712.2,443.8M726.3,464.9L712.2,443.8M726.3,464.9L715.5,429.3M711.3,460.0L715.5,429.3M711.3,460.0L729.6,425.0M702.0,447.3L715.5,429.3M702.0,447.3L729.6,425.0M702.0,431.5L729.6,425.0M702.0,431.5L740.4,435.0M711.3,418.8L729.6,425.0M711.3,418.8L740.4,435.0" stroke="url(#netg)" stroke-width=".6" fill="none" opacity=".62"/>
<circle cx="726.3" cy="439.4" r="25.5" fill="none" stroke="url(#netg)" stroke-width=".7" opacity=".55"/>
<circle cx="726.3" cy="439.4" r="25.5" fill="#ffffff" opacity=".35"/>
<circle cx="726.3" cy="413.9" r="1.15" fill="#f0869c" opacity=".8"/>
<circle cx="741.3" cy="418.8" r="1.15" fill="#f8cf7a" opacity=".8"/>
<circle cx="750.6" cy="431.5" r="1.15" fill="#f8cf7a" opacity=".8"/>
<circle cx="750.6" cy="447.3" r="1.15" fill="#f8cf7a" opacity=".8"/>
<circle cx="741.3" cy="460.0" r="1.15" fill="#f8cf7a" opacity=".8"/>
<circle cx="726.3" cy="464.9" r="1.15" fill="#f0869c" opacity=".8"/>
<circle cx="711.3" cy="460.0" r="1.15" fill="#f0869c" opacity=".8"/>
<circle cx="702.0" cy="447.3" r="1.15" fill="#f0869c" opacity=".8"/>
<circle cx="702.0" cy="431.5" r="1.15" fill="#f0869c" opacity=".8"/>
<circle cx="711.3" cy="418.8" r="1.15" fill="#f0869c" opacity=".8"/>
<circle cx="740.4" cy="435.0" r="1.15" fill="#f8cf7a" opacity=".8"/>
<circle cx="737.1" cy="449.5" r="1.15" fill="#f8cf7a" opacity=".8"/>
<circle cx="723.0" cy="453.8" r="1.15" fill="#f0869c" opacity=".8"/>
<circle cx="712.2" cy="443.8" r="1.15" fill="#f0869c" opacity=".8"/>
<circle cx="715.5" cy="429.3" r="1.15" fill="#f0869c" opacity=".8"/>
<circle cx="729.6" cy="425.0" r="1.15" fill="#f0869c" opacity=".8"/>
</g>
<circle cx="707.8" cy="300.9" r="13" fill="url(#badge)" opacity=".9"/>
<circle cx="703.3" cy="348.9" r="13" fill="url(#badge)" opacity=".9"/>
<circle cx="702.2" cy="396.9" r="13.7" fill="url(#badge)" opacity=".9"/>
<circle cx="689.1" cy="453.6" r="17" fill="url(#badge)"/>
<g font-weight="bold" fill="#fff" text-anchor="middle" opacity=".55">
<text x="708.5" y="297.5" font-size="6.5">1</text><text x="707.8" y="305.3" font-size="4.8" textLength="19" lengthAdjust="spacingAndGlyphs">AEROPORTO</text>
<text x="704" y="345.5" font-size="6.5">1</text><text x="703.3" y="353.3" font-size="4.8" textLength="19" lengthAdjust="spacingAndGlyphs">AEROPORTO</text>
<text x="703" y="393.5" font-size="6.5">1</text><text x="702.2" y="401.3" font-size="4.8" textLength="19" lengthAdjust="spacingAndGlyphs">AEROPORTO</text>
</g>
<g font-weight="bold" fill="#fff" text-anchor="middle" opacity=".85">
<text x="690.1" y="451" font-size="8.5">4</text><text x="688.8" y="460" font-size="6.8" textLength="25" lengthAdjust="spacingAndGlyphs">AEROPORTI</text>
</g>
<g opacity=".88">
<text x="736.1" y="280.7" font-size="9.6" font-weight="bold" text-anchor="middle" fill="#4d484c">1</text>
<text x="717.20" y="291.4" font-size="10" font-weight="normal" text-anchor="start" textLength="36.8" lengthAdjust="spacingAndGlyphs" fill="#4d484c">DESTINAZIONE</text><text x="717.60" y="291.4" font-size="10" font-weight="normal" text-anchor="start" textLength="36.8" lengthAdjust="spacingAndGlyphs" fill="#4d484c">DESTINAZIONE</text>
<text x="724.30" y="301.4" font-size="10" font-weight="normal" text-anchor="start" textLength="22.6" lengthAdjust="spacingAndGlyphs" fill="#4d484c">CROAZIA</text><text x="724.70" y="301.4" font-size="10" font-weight="normal" text-anchor="start" textLength="22.6" lengthAdjust="spacingAndGlyphs" fill="#4d484c">CROAZIA</text>
<text x="731.7" y="328.9" font-size="9.6" font-weight="bold" text-anchor="middle" fill="#4d484c">1</text>
<text x="713.20" y="339.4" font-size="10" font-weight="normal" text-anchor="start" textLength="36.6" lengthAdjust="spacingAndGlyphs" fill="#4d484c">DESTINAZIONE</text><text x="713.60" y="339.4" font-size="10" font-weight="normal" text-anchor="start" textLength="36.6" lengthAdjust="spacingAndGlyphs" fill="#4d484c">DESTINAZIONE</text>
<text x="721.60" y="349.4" font-size="10" font-weight="normal" text-anchor="start" textLength="19.2" lengthAdjust="spacingAndGlyphs" fill="#4d484c">SERBIA</text><text x="722.00" y="349.4" font-size="10" font-weight="normal" text-anchor="start" textLength="19.2" lengthAdjust="spacingAndGlyphs" fill="#4d484c">SERBIA</text>
<text x="729.6" y="376.8" font-size="9.6" font-weight="bold" text-anchor="middle" fill="#4d484c">1</text>
<text x="711.10" y="387.2" font-size="10" font-weight="normal" text-anchor="start" textLength="36.9" lengthAdjust="spacingAndGlyphs" fill="#4d484c">DESTINAZIONE</text><text x="711.50" y="387.2" font-size="10" font-weight="normal" text-anchor="start" textLength="36.9" lengthAdjust="spacingAndGlyphs" fill="#4d484c">DESTINAZIONE</text>
<text x="716.60" y="396.8" font-size="10" font-weight="normal" text-anchor="start" textLength="25.3" lengthAdjust="spacingAndGlyphs" fill="#4d484c">BULGARIA</text><text x="717.00" y="396.8" font-size="10" font-weight="normal" text-anchor="start" textLength="25.3" lengthAdjust="spacingAndGlyphs" fill="#4d484c">BULGARIA</text>
<text x="725.8" y="430.1" font-size="12.8" font-weight="bold" text-anchor="middle" fill="#45424a">4</text>
<text x="702.55" y="443.2" font-size="13.6" font-weight="normal" text-anchor="start" textLength="45.6" lengthAdjust="spacingAndGlyphs" fill="#45424a">DESTINAZIONI</text><text x="703.05" y="443.2" font-size="13.6" font-weight="normal" text-anchor="start" textLength="45.6" lengthAdjust="spacingAndGlyphs" fill="#45424a">DESTINAZIONI</text>
<text x="713.75" y="455.7" font-size="13.6" font-weight="normal" text-anchor="start" textLength="24" lengthAdjust="spacingAndGlyphs" fill="#45424a">GRECIA</text><text x="714.25" y="455.7" font-size="13.6" font-weight="normal" text-anchor="start" textLength="24" lengthAdjust="spacingAndGlyphs" fill="#45424a">GRECIA</text>
</g>

<!-- ================= FOOTER ================= -->
<path d="M0,502.7 L780,558.5 L0,558.5Z" fill="url(#footA)"/>
<path d="M781,481.9 L183,516.8 L22,540.5 L781,540.5Z" fill="#6a7078" opacity=".5"/>
<path d="M781,484.4 L0,539.3 L0,541 L781,541Z" fill="url(#footB)"/>
<path d="M0,539.3 L258,521.2 L522,540.1 L0,541Z" fill="#e62a6c" opacity=".26"/>

<!-- logo -->
<path d="M5.6,534.6 Q13,517 23.4,508.4 Q28,506.3 31.7,509.8 L31.7,525.6 L28.4,525.6 L28.4,513 Q27.3,511.6 25.8,513.2 Q19,521.5 13.4,534.6Z" fill="#fff"/>
<g fill="none" stroke="#ee5a96" stroke-width=".55" opacity=".75">
<path d="M7.6,534.6 Q14.3,518.2 24,509.9 Q27.6,508.2 30.2,510.6"/>
<path d="M9.6,534.6 Q15.8,519.3 24.6,511.3 Q27.2,510 28.8,511.6"/>
<path d="M11.6,534.6 Q17.4,520.4 25.2,512.4"/>
</g>
<text x="15.2" y="533.6" font-size="6.4" font-weight="bold" font-style="italic" fill="#fff" stroke="#fff" stroke-width=".25" textLength="15.8" lengthAdjust="spacingAndGlyphs">GESAP</text>
<text x="35.9" y="522.4" font-size="8.5" fill="#fff" stroke="#fff" stroke-width=".2" textLength="38.7" lengthAdjust="spacingAndGlyphs">AEROPORTO</text>
<text x="34.3" y="528.7" font-size="8" fill="#fff" stroke="#fff" stroke-width=".2" textLength="40.3" lengthAdjust="spacingAndGlyphs">DI PALERMO</text>

<text x="646.7" y="509.3" font-size="17.3" fill="#fdeedd" textLength="120.6" lengthAdjust="spacingAndGlyphs" opacity=".92">DESTINAZIONI</text>
<text x="646.7" y="528.3" font-size="17.3" font-weight="bold" fill="#fff" textLength="121.6" lengthAdjust="spacingAndGlyphs">SUMMER 2019</text>

<!-- ================= TITLE ================= -->
<text x="225.6" y="39.7" font-size="18.4" fill="#dc3f8a" fill-opacity=".88" textLength="158.6" lengthAdjust="spacingAndGlyphs">DESTINAZIONI</text>
<text x="391.2" y="39.7" font-size="18.4" font-weight="bold" fill="#c8196f" stroke="#c8196f" stroke-width=".45" textLength="160.6" lengthAdjust="spacingAndGlyphs">SUMMER 2019</text>
<text x="152.8" y="65.9" font-size="12.6" fill="#3a3a3a" textLength="497.6" lengthAdjust="spacingAndGlyphs">COLLEGAMENTI DA PALERMO ALLA GRECIA, SERBIA, BULGARIA E CROAZIA</text>
</svg>
</body></html>
